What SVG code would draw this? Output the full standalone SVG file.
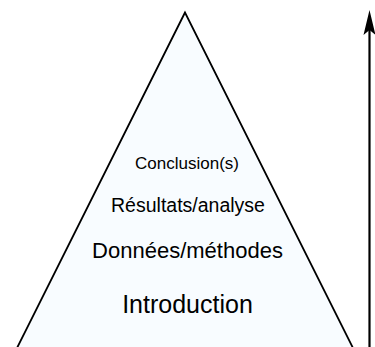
<svg xmlns="http://www.w3.org/2000/svg" width="375" height="347" viewBox="0 0 375 347">
  <style>
    .lbl { font-family: "Liberation Sans", Arial, sans-serif; fill: #000; text-anchor: middle; }
  </style>
  <defs>
    <!-- notched arrowhead, drawn along +x so orient="auto" points it along the line -->
    <marker id="head" markerUnits="userSpaceOnUse" markerWidth="26" markerHeight="14" refX="6" refY="7" orient="auto" viewBox="0 0 26 14">
      <path d="M26 7 L1 1 L6 7 L1 13 Z" fill="#000"/>
    </marker>
  </defs>
  <rect width="375" height="347" fill="#fff"/>
  <g id="pyramid">
    <polygon points="185,12.5 15,352 355,352" fill="#F8FCFF" stroke="#000" stroke-width="1.8" stroke-linejoin="miter"/>
  </g>
  <g id="conclusion">
    <text class="lbl" x="187" y="169" font-size="17">Conclusion(s)</text>
  </g>
  <g id="resultats">
    <text class="lbl" x="188" y="212" font-size="19.5">Résultats/analyse</text>
  </g>
  <g id="donnees">
    <text class="lbl" x="187.5" y="258" font-size="22">Données/méthodes</text>
  </g>
  <g id="introduction">
    <text class="lbl" x="187.5" y="313" font-size="25">Introduction</text>
  </g>
  <g id="connectors">
    <line x1="369.5" y1="347" x2="369.5" y2="30" stroke="#000" stroke-width="2.2" marker-end="url(#head)"/>
  </g>
</svg>
